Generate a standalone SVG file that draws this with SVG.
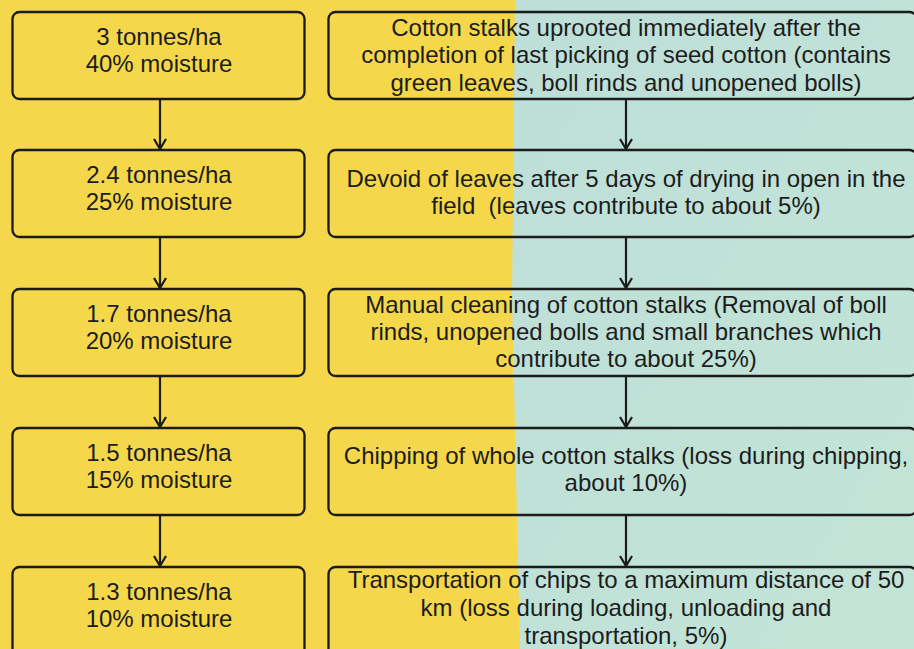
<svg xmlns="http://www.w3.org/2000/svg" width="914" height="649" viewBox="0 0 914 649">
<style>
.box{fill:none;stroke:#1b1b1b;stroke-width:2.3}
.t{font-family:"Liberation Sans",Arial,sans-serif;font-size:24px;fill:#1c1c1c;text-anchor:middle}
.c{stroke:#1b1b1b;stroke-width:2.2;fill:none}
</style>
<defs>
<marker id="ah" markerWidth="12" markerHeight="14" refX="11" refY="7" orient="auto" markerUnits="userSpaceOnUse" viewBox="0 0 12 14">
<path d="M1,1 L11,7 L1,13" fill="none" stroke="#1b1b1b" stroke-width="2.2"/>
</marker>
<linearGradient id="bl" x1="0" y1="0" x2="1" y2="1">
<stop offset="0" stop-color="#bddfd8"/>
<stop offset="1" stop-color="#c3e4d6"/>
</linearGradient>
</defs>
<rect x="0" y="0" width="914" height="649" fill="#f5d74b"/>
<polygon points="515,0 914,0 914,649 520,649 512,300" fill="url(#bl)"/>
<g id="connectors">
<line class="c" x1="160" y1="99" x2="160" y2="149" marker-end="url(#ah)"/>
<line class="c" x1="160" y1="237" x2="160" y2="288" marker-end="url(#ah)"/>
<line class="c" x1="160" y1="376" x2="160" y2="427" marker-end="url(#ah)"/>
<line class="c" x1="160" y1="515" x2="160" y2="566" marker-end="url(#ah)"/>
<line class="c" x1="626" y1="99" x2="626" y2="149" marker-end="url(#ah)"/>
<line class="c" x1="626" y1="237" x2="626" y2="288" marker-end="url(#ah)"/>
<line class="c" x1="626" y1="376" x2="626" y2="427" marker-end="url(#ah)"/>
<line class="c" x1="626" y1="515" x2="626" y2="566" marker-end="url(#ah)"/>
</g>
<g id="L1"><rect class="box" x="12.5" y="12" width="292" height="87" rx="7"/>
<text class="t" x="159" y="45">3 tonnes/ha</text><text class="t" x="159" y="72">40% moisture</text></g>
<g id="L2"><rect class="box" x="12.5" y="150" width="292" height="87" rx="7"/>
<text class="t" x="159" y="183">2.4 tonnes/ha</text><text class="t" x="159" y="210">25% moisture</text></g>
<g id="L3"><rect class="box" x="12.5" y="289" width="292" height="87" rx="7"/>
<text class="t" x="159" y="322">1.7 tonnes/ha</text><text class="t" x="159" y="349">20% moisture</text></g>
<g id="L4"><rect class="box" x="12.5" y="428" width="292" height="87" rx="7"/>
<text class="t" x="159" y="461">1.5 tonnes/ha</text><text class="t" x="159" y="488">15% moisture</text></g>
<g id="L5"><rect class="box" x="12.5" y="567" width="292" height="100" rx="7"/>
<text class="t" x="159" y="600">1.3 tonnes/ha</text><text class="t" x="159" y="627">10% moisture</text></g>
<g id="R1"><rect class="box" x="328.5" y="12" width="588" height="87" rx="7"/>
<text class="t" x="626" y="36">Cotton stalks uprooted immediately after the</text>
<text class="t" x="626" y="63">completion of last picking of seed cotton (contains</text>
<text class="t" x="626" y="91">green leaves, boll rinds and unopened bolls)</text></g>
<g id="R2"><rect class="box" x="328.5" y="150" width="588" height="87" rx="7"/>
<text class="t" x="626" y="187">Devoid of leaves after 5 days of drying in open in the</text>
<text class="t" x="626" y="214" xml:space="preserve">field  (leaves contribute to about 5%)</text></g>
<g id="R3"><rect class="box" x="328.5" y="289" width="588" height="87" rx="7"/>
<text class="t" x="626" y="313">Manual cleaning of cotton stalks (Removal of boll</text>
<text class="t" x="626" y="340">rinds, unopened bolls and small branches which</text>
<text class="t" x="626" y="367">contribute to about 25%)</text></g>
<g id="R4"><rect class="box" x="328.5" y="428" width="588" height="87" rx="7"/>
<text class="t" x="626" y="464">Chipping of whole cotton stalks (loss during chipping,</text>
<text class="t" x="626" y="491">about 10%)</text></g>
<g id="R5"><rect class="box" x="328.5" y="567" width="588" height="100" rx="7"/>
<text class="t" x="626" y="588">Transportation of chips to a maximum distance of 50</text>
<text class="t" x="626" y="616">km (loss during loading, unloading and</text>
<text class="t" x="626" y="644">transportation, 5%)</text></g>
</svg>
